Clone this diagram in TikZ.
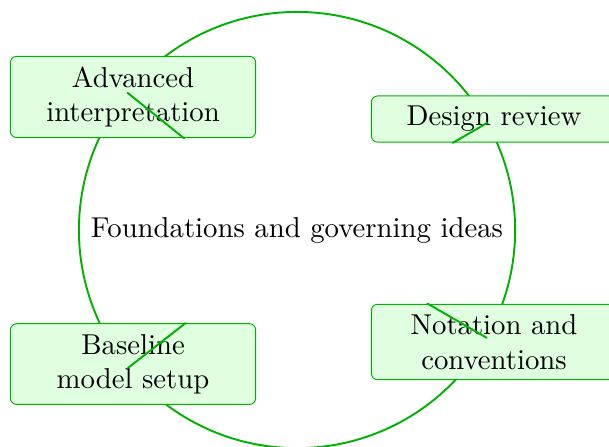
\documentclass[tikz,border=0pt]{standalone}
\usepackage{tikz}
\usetikzlibrary{calc}
\usetikzlibrary{positioning}
\definecolor{ringgreen}{RGB}{0,178,0}
\definecolor{boxgreen}{RGB}{224,255,224}

\begin{document}
\begin{tikzpicture}[scale=1.5, every node/.style={transform shape},
    line cap=round, line join=round,
    topicbox/.style={draw=ringgreen, line width=0.5pt, fill=boxgreen, rounded corners=3.3pt,
      minimum width=3cm, inner xsep=4pt, inner ysep=3.6pt, align=center},
    spoke/.style={ringgreen, line width=1pt}]
        \useasboundingbox (-3.632,-2.641) rectangle (3.815,2.813);

        % ring and central idea
        \coordinate (O) at (0,0);
        \draw[spoke] (O) circle (2.667cm);
        \node (core) at (O) {Foundations and governing ideas};

        % points on the ring
        \coordinate (ringA) at (141:2.667cm);
        \coordinate (ringD) at (29.4:2.667cm);
        \coordinate (ringN) at (-29.6:2.667cm);
        \coordinate (ringB) at (-140.8:2.667cm);

        % topic boxes
        \node[topicbox] (adv) at (-2.005,1.627) {Advanced\\interpretation};
        \node[topicbox] (des) at (2.409,1.357) {Design review};
        \node[topicbox] (nota) at (2.409,-1.369) {Notation and\\conventions};
        \node[topicbox] (base) at (-2.005,-1.639) {Baseline\\model setup};

        % spokes toward the centre
        \draw[spoke] (ringA) -- (adv.-39);
        \draw[spoke] (ringD) -- (des.210.5);
        \draw[spoke] (ringN) -- (nota.150);
        \draw[spoke] (ringB) -- (base.38.7);
\end{tikzpicture}
\end{document}
